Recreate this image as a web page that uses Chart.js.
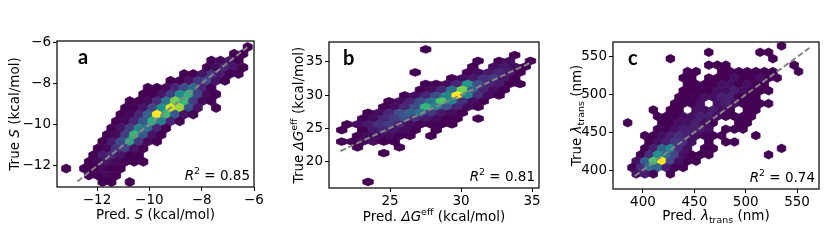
<!DOCTYPE html>
<html><head><meta charset="utf-8">
<script src="https://cdn.jsdelivr.net/npm/chart.js@4.4.1/dist/chart.umd.min.js"></script>
<style>
html,body{margin:0;padding:0;background:#fff;}
#wrap{position:relative;width:830px;height:249px;overflow:hidden;background:#fff;}
canvas{position:absolute;top:0;}
</style></head><body>
<div id="wrap">
<canvas id="ca" width="277" height="249" style="left:0px"></canvas>
<canvas id="cb" width="290" height="249" style="left:270px"></canvas>
<canvas id="cc" width="275" height="249" style="left:555px"></canvas>
</div>
<script>
// ---------------- Panel a : S (kcal/mol) ----------------
const aHexX = [
 -6.24,
 -6.76,-6.41,
 -7.63,-7.28,-6.93,-6.59,
 -7.80,-7.45,-7.11,-6.76,-6.41,
 -8.67,-8.32,-7.97,-7.63,-7.28,-6.93,-6.59,
 -9.19,-8.84,-8.49,-8.15,-7.80,-7.45,-7.11,
 -10.06,-9.71,-9.36,-9.02,-8.67,-8.32,-7.97,-7.63,
 -10.23,-9.88,-9.54,-9.19,-8.84,-8.49,-8.15,-7.80,-7.45,
 -10.75,-10.40,-10.06,-9.71,-9.36,-9.02,-8.67,-8.32,-7.97,-7.63,
 -10.92,-10.58,-10.23,-9.88,-9.54,-9.19,-8.84,-8.49,-8.15,-7.45,
 -11.10,-10.75,-10.40,-10.06,-9.71,-9.36,-9.02,-8.67,-8.32,
 -11.27,-10.92,-10.58,-10.23,-9.88,-9.54,-9.19,-8.84,
 -11.45,-11.10,-10.75,-10.40,-10.06,-9.71,-9.36,
 -11.62,-11.27,-10.92,-10.58,-10.23,-9.88,-9.54,
 -11.79,-11.45,-11.10,-10.75,-10.40,-10.06,-9.71,
 -11.97,-11.62,-11.27,-10.92,-10.58,-10.23,
 -12.14,-11.79,-11.45,-11.10,-10.75,-10.40,
 -12.31,-11.97,-11.62,-11.27,-10.92,-10.58,-10.23,
 -13.18,-12.49,-12.14,-11.79,-11.45,-11.10,
 -12.31,-11.97,-11.62,-11.27,
 -11.79,-11.45,-10.75
];
const aHexY = [
 -6.24,
 -6.57,-6.57,
 -6.90,-6.90,-6.90,-6.90,
 -7.23,-7.23,-7.23,-7.23,-7.23,
 -7.55,-7.55,-7.55,-7.55,-7.55,-7.55,-7.55,
 -7.88,-7.88,-7.88,-7.88,-7.88,-7.88,-7.88,
 -8.21,-8.21,-8.21,-8.21,-8.21,-8.21,-8.21,-8.21,
 -8.53,-8.53,-8.53,-8.53,-8.53,-8.53,-8.53,-8.53,-8.53,
 -8.86,-8.86,-8.86,-8.86,-8.86,-8.86,-8.86,-8.86,-8.86,-8.86,
 -9.19,-9.19,-9.19,-9.19,-9.19,-9.19,-9.19,-9.19,-9.19,-9.19,
 -9.51,-9.51,-9.51,-9.51,-9.51,-9.51,-9.51,-9.51,-9.51,
 -9.84,-9.84,-9.84,-9.84,-9.84,-9.84,-9.84,-9.84,
 -10.17,-10.17,-10.17,-10.17,-10.17,-10.17,-10.17,
 -10.49,-10.49,-10.49,-10.49,-10.49,-10.49,-10.49,
 -10.82,-10.82,-10.82,-10.82,-10.82,-10.82,-10.82,
 -11.15,-11.15,-11.15,-11.15,-11.15,-11.15,
 -11.48,-11.48,-11.48,-11.48,-11.48,-11.48,
 -11.80,-11.80,-11.80,-11.80,-11.80,-11.80,-11.80,
 -12.13,-12.13,-12.13,-12.13,-12.13,-12.13,
 -12.46,-12.46,-12.46,-12.46,
 -12.78,-12.78,-12.78
];
const aHexN = [
 1,
 1,1,
 1,2,3,1,
 1,2,5,3,1,
 1,1,3,7,4,1,1,
 1,1,3,7,9,3,1,
 1,1,2,5,10,14,5,1,
 1,1,3,8,20,26,9,2,1,
 1,1,2,6,16,32,27,8,2,1,
 1,1,3,9,20,38,34,11,3,1,
 1,2,5,13,40,28,12,3,1,
 1,2,5,12,26,18,5,1,
 1,3,8,18,16,5,1,
 1,2,8,27,12,3,1,
 1,4,10,24,7,2,1,
 1,2,7,9,3,1,
 1,4,6,3,1,1,
 1,2,3,2,1,1,1,
 1,1,1,2,1,1,
 1,1,2,1,
 1,1,1
];
const aXTicks = [-12, -10, -8, -6];
const aYTicks = [-12, -10, -8, -6];
const aIdentity = [-12.75, -6.25];

// ---------------- Panel b : ΔG_eff (kcal/mol) ----------------
const bHexX = [
 27.51,
 33.78,
 31.20,32.68,33.41,34.89,
 30.83,32.31,33.04,33.78,34.52,
 26.77,30.46,31.20,31.94,32.68,33.41,34.15,
 29.35,30.09,30.83,31.57,32.31,33.04,33.78,
 27.51,28.25,28.99,29.72,30.46,31.20,31.94,32.68,33.41,34.15,
 27.14,27.88,28.61,29.35,30.09,30.83,31.57,32.31,33.04,
 26.03,26.77,27.51,28.25,28.99,29.72,30.46,31.20,31.94,32.68,
 24.93,25.66,26.40,27.14,27.88,28.61,29.35,30.09,30.83,31.57,
 24.56,25.30,26.03,26.77,27.51,28.25,28.99,29.72,30.46,31.20,
 23.45,24.19,24.93,25.66,26.40,27.14,27.88,28.61,29.35,30.09,
 23.08,23.82,24.56,25.30,26.03,26.77,27.51,28.25,28.99,29.72,31.20,
 21.97,22.71,23.45,24.19,24.93,25.66,26.40,27.14,27.88,28.61,29.35,
 21.60,23.08,23.82,24.56,25.30,26.03,26.77,28.25,
 22.71,23.45,24.19,24.93,25.66,26.40,27.88,
 21.60,22.34,23.08,23.82,24.56,25.30,
 22.71,25.66,
 24.56,
 23.45
];
const bHexY = [
 36.91,
 36.04,
 35.16,35.16,35.16,35.16,
 34.29,34.29,34.29,34.29,34.29,
 33.42,33.42,33.42,33.42,33.42,33.42,33.42,
 32.54,32.54,32.54,32.54,32.54,32.54,32.54,
 31.67,31.67,31.67,31.67,31.67,31.67,31.67,31.67,31.67,31.67,
 30.80,30.80,30.80,30.80,30.80,30.80,30.80,30.80,30.80,
 29.93,29.93,29.93,29.93,29.93,29.93,29.93,29.93,29.93,29.93,
 29.05,29.05,29.05,29.05,29.05,29.05,29.05,29.05,29.05,29.05,
 28.18,28.18,28.18,28.18,28.18,28.18,28.18,28.18,28.18,28.18,
 27.31,27.31,27.31,27.31,27.31,27.31,27.31,27.31,27.31,27.31,
 26.43,26.43,26.43,26.43,26.43,26.43,26.43,26.43,26.43,26.43,26.43,
 25.56,25.56,25.56,25.56,25.56,25.56,25.56,25.56,25.56,25.56,25.56,
 24.69,24.69,24.69,24.69,24.69,24.69,24.69,24.69,
 23.81,23.81,23.81,23.81,23.81,23.81,23.81,
 22.94,22.94,22.94,22.94,22.94,22.94,
 22.07,22.07,
 21.20,
 16.83
];
const bHexN = [
 1,
 1,
 1,1,2,1,
 1,2,3,2,1,
 1,1,2,3,4,3,1,
 1,2,3,5,6,3,1,
 1,1,2,4,16,8,4,3,1,1,
 1,2,4,12,24,10,4,2,1,
 1,2,4,8,14,30,14,5,2,1,
 1,2,4,8,12,22,14,5,2,1,
 1,2,4,8,20,14,9,4,2,1,
 1,2,4,8,10,12,6,3,2,1,
 1,2,4,6,8,5,3,2,1,1,1,
 1,2,3,5,6,4,2,1,1,1,1,
 1,1,3,4,3,2,1,1,
 1,2,2,2,1,1,1,
 1,1,2,2,1,1,
 1,1,
 1,
 1
];
const bXTicks = [25, 30, 35];
const bYTicks = [20, 25, 30, 35];
const bIdentity = [21.5, 35.0];

// ---------------- Panel c : λ_trans (nm) ----------------
const cHexX = [
 534.9,
 464.1,514.0,522.3,
 426.7,526.5,
 464.1,472.4,480.7,547.2,
 443.3,451.7,476.6,485.0,493.3,501.6,509.9,518.2,526.5,551.5,
 439.2,447.5,464.1,472.4,480.7,489.1,497.4,505.6,514.0,522.3,530.6,
 443.3,451.7,460.0,468.3,476.6,485.0,493.3,501.6,509.9,518.2,
 439.2,447.5,455.8,464.1,472.4,480.7,489.1,497.4,505.6,514.0,522.3,
 435.1,443.3,451.7,460.0,468.3,476.6,485.0,493.3,501.6,509.9,
 430.9,439.2,447.5,455.8,472.4,480.7,489.1,497.4,505.6,514.0,522.3,
 410.1,426.7,435.1,451.7,460.0,468.3,476.6,485.0,501.6,509.9,
 414.2,422.5,430.9,439.2,447.5,455.8,464.1,472.4,480.7,489.1,497.4,505.6,
 385.1,418.4,426.7,435.1,443.3,451.7,460.0,468.3,493.3,501.6,
 414.2,422.5,430.9,439.2,447.5,455.8,464.1,480.7,489.1,497.4,
 401.8,410.1,418.4,426.7,435.1,443.3,451.7,460.0,468.3,476.6,509.9,
 405.9,414.2,422.5,430.9,439.2,447.5,464.1,480.7,489.1,
 401.8,410.1,418.4,426.7,435.1,443.3,460.0,468.3,534.9,
 397.6,405.9,414.2,422.5,430.9,439.2,447.5,455.8,464.1,522.3,
 393.4,401.8,410.1,418.4,426.7,435.1,443.3,451.7,
 389.3,397.6,405.9,414.2,422.5,430.9,439.2,
 393.4,401.8,410.1,426.7
];
const cHexY = [
 564.7,
 556.2,556.2,556.2,
 547.7,547.7,
 539.2,539.2,539.2,539.2,
 530.7,530.7,530.7,530.7,530.7,530.7,530.7,530.7,530.7,530.7,
 522.2,522.2,522.2,522.2,522.2,522.2,522.2,522.2,522.2,522.2,522.2,
 513.7,513.7,513.7,513.7,513.7,513.7,513.7,513.7,513.7,513.7,
 505.2,505.2,505.2,505.2,505.2,505.2,505.2,505.2,505.2,505.2,505.2,
 496.7,496.7,496.7,496.7,496.7,496.7,496.7,496.7,496.7,496.7,
 488.2,488.2,488.2,488.2,488.2,488.2,488.2,488.2,488.2,488.2,488.2,
 479.7,479.7,479.7,479.7,479.7,479.7,479.7,479.7,479.7,479.7,
 471.2,471.2,471.2,471.2,471.2,471.2,471.2,471.2,471.2,471.2,471.2,471.2,
 462.7,462.7,462.7,462.7,462.7,462.7,462.7,462.7,462.7,462.7,
 454.2,454.2,454.2,454.2,454.2,454.2,454.2,454.2,454.2,454.2,
 445.7,445.7,445.7,445.7,445.7,445.7,445.7,445.7,445.7,445.7,445.7,
 437.2,437.2,437.2,437.2,437.2,437.2,437.2,437.2,437.2,
 428.7,428.7,428.7,428.7,428.7,428.7,428.7,428.7,428.7,
 420.2,420.2,420.2,420.2,420.2,420.2,420.2,420.2,420.2,420.2,
 411.7,411.7,411.7,411.7,411.7,411.7,411.7,411.7,
 403.2,403.2,403.2,403.2,403.2,403.2,403.2,
 394.7,394.7,394.7,394.7
];
const cHexN = [
 1,
 1,1,1,
 1,1,
 1,1,1,1,
 1,1,1,1,1,1,1,1,1,1,
 1,1,1,1,1,2,1,1,2,1,1,
 1,1,1,1,2,2,1,2,1,1,
 1,1,1,1,2,2,3,2,1,1,1,
 1,1,1,2,2,3,3,1,1,1,
 1,1,1,2,2,3,2,1,1,1,1,
 1,1,1,2,2,3,2,1,1,1,
 1,1,1,2,2,3,3,2,1,1,1,1,
 1,1,1,2,2,3,2,1,1,1,
 1,1,2,3,3,3,2,1,1,1,
 1,1,2,3,4,3,2,1,1,1,1,
 1,2,3,5,4,2,1,1,1,
 1,3,9,12,4,2,1,1,1,
 1,4,13,10,6,2,1,1,1,1,
 2,8,18,25,6,2,1,1,
 1,4,10,9,3,1,1,
 2,3,1,1
];
const cXTicks = [400, 450, 500, 550];
const cYTicks = [400, 450, 500, 550];
const cIdentity = [392, 562];

// ---------------- text ----------------
const panelLetters = ['a', 'b', 'c'];
const r2Values = ['0.85', '0.81', '0.74'];

// ---------------- helpers ----------------
const viridisStops = ['#440154','#482475','#414487','#355f8d','#2a788e','#21918c','#22a884','#44bf70','#7ad151','#bddf26','#fde725'];
const vRGB = viridisStops.map(h => [parseInt(h.slice(1,3),16), parseInt(h.slice(3,5),16), parseInt(h.slice(5,7),16)]);
function viridis(t) {
  t = Math.max(0, Math.min(1, t));
  const s = t * (vRGB.length - 1);
  const i = Math.min(vRGB.length - 2, Math.floor(s));
  const f = s - i, a = vRGB[i], b = vRGB[i + 1];
  return 'rgb(' + [0,1,2].map(k => Math.round(a[k] + (b[k] - a[k]) * f)).join(',') + ')';
}
const FAM = "'DejaVu Sans'";
const TITLE_SIZE = 13.5;
function drawRich(ctx, segs, x, y, size, align, rot) {
  const fontFor = s => {
    const sz = (s.k === 'sup' || s.k === 'sub') ? size * 0.7 : size;
    return (s.i ? 'italic ' : '') + sz + 'px ' + FAM;
  };
  let total = 0;
  const ws = segs.map(s => { ctx.font = fontFor(s); const w = ctx.measureText(s.t).width; total += w; return w; });
  ctx.save();
  ctx.translate(x, y);
  if (rot) ctx.rotate(rot);
  let cx = align === 'center' ? -total / 2 : (align === 'right' ? -total : 0);
  ctx.textBaseline = 'alphabetic'; ctx.textAlign = 'left'; ctx.fillStyle = '#000';
  segs.forEach((s, i) => {
    ctx.font = fontFor(s);
    const dy = s.k === 'sup' ? -size * 0.42 : (s.k === 'sub' ? size * 0.24 : 0);
    ctx.fillText(s.t, cx, dy);
    cx += ws[i];
  });
  ctx.restore();
}
const fmtTick = v => (v < 0 ? '\u2212' + Math.abs(v) : String(v));

function hexPlugin(P) {
  return {
    id: 'hexbin',
    beforeDatasetsDraw(chart) {
      const {ctx, chartArea: a, scales: {x, y}} = chart;
      const pts = chart.data.datasets[0].data;
      const maxN = Math.max(...P.hn);
      const verts = [[0.5,-1/3],[0.5,1/3],[0,2/3],[-0.5,1/3],[-0.5,-1/3],[0,-2/3]];
      ctx.save();
      ctx.beginPath(); ctx.rect(a.left, a.top, a.right - a.left, a.bottom - a.top); ctx.clip();
      pts.forEach(p => {
        const col = viridis((p.c - 1) / (maxN - 1));
        ctx.beginPath();
        verts.forEach(([dx, dy], i) => {
          const px = x.getPixelForValue(p.x + dx * P.binW);
          const py = y.getPixelForValue(p.y + dy * P.rowH);
          if (i) ctx.lineTo(px, py); else ctx.moveTo(px, py);
        });
        ctx.closePath();
        ctx.fillStyle = col; ctx.fill();
        ctx.strokeStyle = col; ctx.lineWidth = 0.8; ctx.stroke();
      });
      ctx.restore();
    }
  };
}
function decoPlugin(P) {
  return {
    id: 'deco',
    afterDraw(chart) {
      const {ctx, chartArea: a} = chart;
      ctx.save();
      ctx.strokeStyle = '#111'; ctx.lineWidth = 1.3;
      ctx.strokeRect(a.left, a.top, a.right - a.left, a.bottom - a.top);
      ctx.restore();
      drawRich(ctx, P.yTitle, a.left - P.yTitleOff, (a.top + a.bottom) / 2, TITLE_SIZE, 'center', -Math.PI / 2);
      drawRich(ctx, P.xTitle, (a.left + a.right) / 2, a.bottom + P.xTitleOff, TITLE_SIZE, 'center', 0);
      drawRich(ctx, [{t: 'R', i: 1}, {t: '2', k: 'sup'}, {t: ' = ' + P.r2}], a.right - 4, a.bottom - 7, TITLE_SIZE, 'right', 0);
      ctx.save();
      ctx.font = 'bold 20px Lato'; ctx.fillStyle = '#000'; ctx.textBaseline = 'alphabetic'; ctx.textAlign = 'left';
      ctx.fillText(P.letter, a.left + P.letterDx, a.top + 23);
      ctx.restore();
    }
  };
}
function axis(range, ticks, fit, isX) {
  return {
    type: 'linear', min: range[0], max: range[1],
    afterBuildTicks: s => { s.ticks = ticks.map(v => ({value: v})); },
    afterFit: s => { if (isX) s.height = fit; else s.width = fit; },
    grid: {drawOnChartArea: false, drawTicks: true, tickLength: 4, color: '#000', tickWidth: 1},
    border: {display: false},
    ticks: {font: {family: 'DejaVu Sans', size: 13.5}, color: '#000', padding: isX ? 1 : 2, autoSkip: false, maxRotation: 0, callback: v => fmtTick(v)}
  };
}
function makePanel(id, P) {
  const hexData = P.hx.map((x, i) => ({x: x, y: P.hy[i], c: P.hn[i]}));
  new Chart(document.getElementById(id), {
    type: 'scatter',
    data: {datasets: [
      {data: hexData, pointRadius: 0, pointHoverRadius: 0},
      {type: 'line', data: [{x: P.line[0], y: P.line[0]}, {x: P.line[1], y: P.line[1]}],
       borderColor: '#858585', borderWidth: 2, borderDash: [6, 2.8], pointRadius: 0, fill: false}
    ]},
    options: {
      responsive: false, animation: false, events: [],
      layout: {padding: P.pad},
      plugins: {legend: {display: false}, tooltip: {enabled: false}},
      scales: {x: axis(P.xr, P.xt, P.xh, true), y: axis(P.yr, P.yt, P.yw, false)}
    },
    plugins: [hexPlugin(P), decoPlugin(P)]
  });
}

makePanel('ca', {
  hx: aHexX, hy: aHexY, hn: aHexN, line: aIdentity, xt: aXTicks, yt: aYTicks,
  xr: [-13.53, -6.0], yr: [-13.02, -5.95], binW: 0.347, rowH: 0.327,
  pad: {left: 0, right: 23, top: 41, bottom: 40}, yw: 57, xh: 22,
  yTitle: [{t: 'True '}, {t: 'S', i: 1}, {t: ' (kcal/mol)'}],
  xTitle: [{t: 'Pred. '}, {t: 'S', i: 1}, {t: ' (kcal/mol)'}],
  yTitleOff: 38, xTitleOff: 32, r2: r2Values[0], letter: panelLetters[0], letterDx: 21
});
makePanel('cb', {
  hx: bHexX, hy: bHexY, hn: bHexN, line: bIdentity, xt: bXTicks, yt: bYTicks,
  xr: [20.70, 35.49], yr: [15.91, 38.03], binW: 0.738, rowH: 0.873,
  pad: {left: 0, right: 21, top: 42, bottom: 39}, yw: 59, xh: 22,
  yTitle: [{t: 'True '}, {t: '\u0394G', i: 1}, {t: 'eff', k: 'sup'}, {t: ' (kcal/mol)'}],
  xTitle: [{t: 'Pred. '}, {t: '\u0394G', i: 1}, {t: 'eff', k: 'sup'}, {t: ' (kcal/mol)'}],
  yTitleOff: 26, xTitleOff: 33, r2: r2Values[1], letter: panelLetters[1], letterDx: 14
});
makePanel('cc', {
  hx: cHexX, hy: cHexY, hn: cHexN, line: cIdentity, xt: cXTicks, yt: cYTicks,
  xr: [370.8, 571.4], yr: [374.8, 569.9], binW: 8.32, rowH: 8.5,
  pad: {left: 0, right: 11, top: 42, bottom: 38}, yw: 58, xh: 22,
  yTitle: [{t: 'True '}, {t: '\u03bb', i: 1}, {t: 'trans', k: 'sub'}, {t: ' (nm)'}],
  xTitle: [{t: 'Pred. '}, {t: '\u03bb', i: 1}, {t: 'trans', k: 'sub'}, {t: ' (nm)'}],
  yTitleOff: 32, xTitleOff: 31, r2: r2Values[2], letter: panelLetters[2], letterDx: 15
});
</script>
</body></html>
